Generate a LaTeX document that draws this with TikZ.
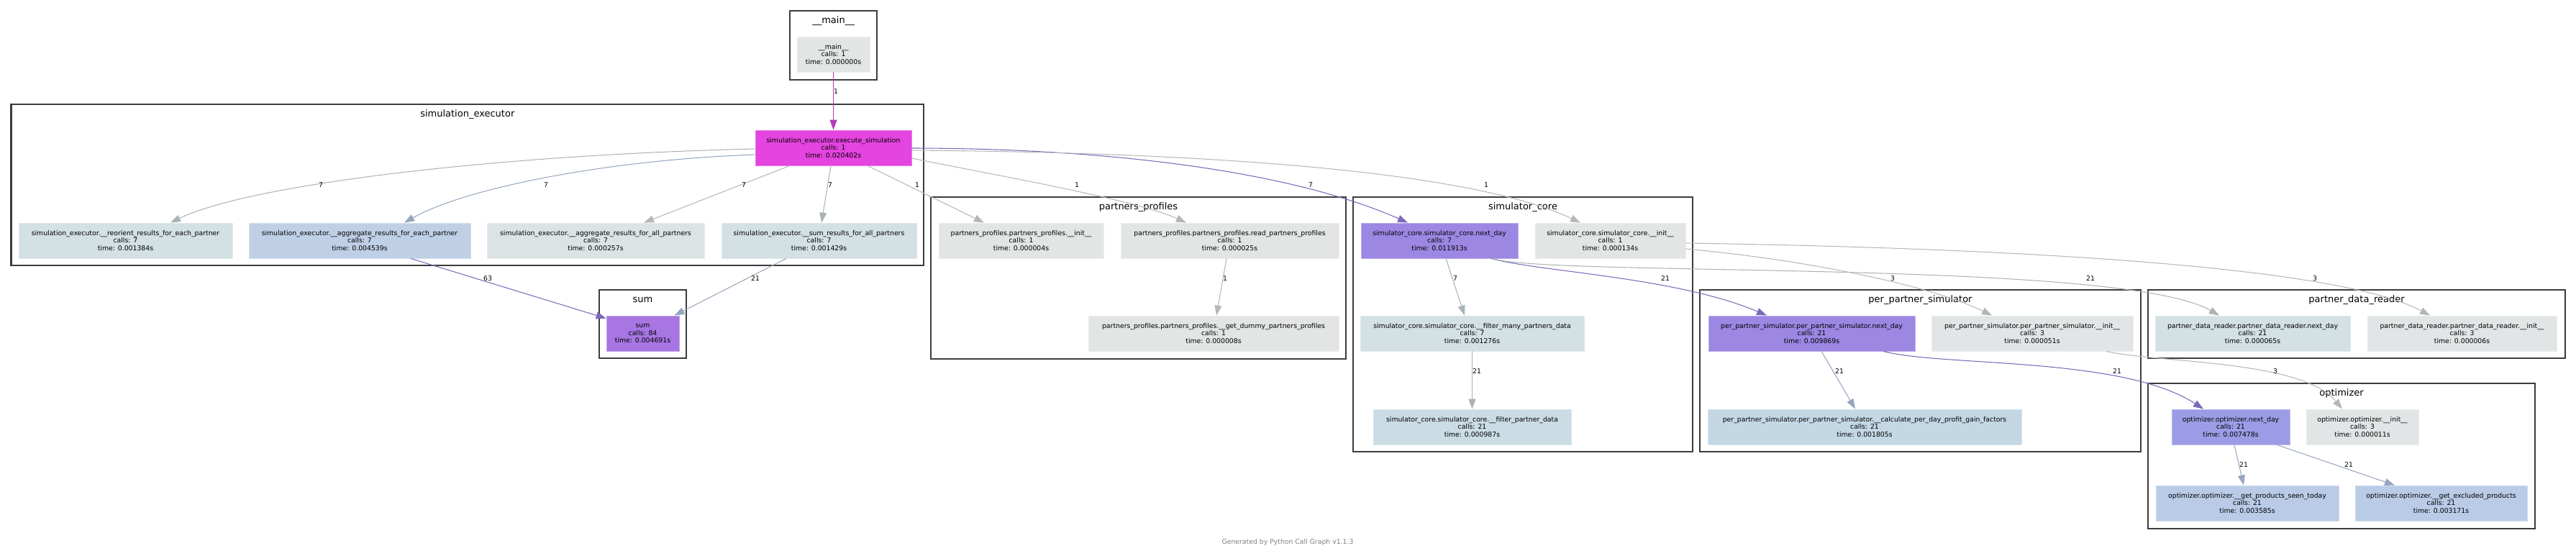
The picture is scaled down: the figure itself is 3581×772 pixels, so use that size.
\documentclass[tikz,border=0pt]{standalone}
\usepackage{fontspec}
\setmainfont{DejaVu Sans}
\usetikzlibrary{arrows.meta}
\definecolor{cgray}{HTML}{E3E5E5}
\definecolor{cpale}{HTML}{DCE3E4}
\definecolor{cpalest}{HTML}{E1E5E6}
\definecolor{cmist}{HTML}{D3E0E4}
\definecolor{csky}{HTML}{CADCE4}
\definecolor{csteel}{HTML}{C4D7E5}
\definecolor{cblue}{HTML}{BFD0E6}
\definecolor{ccorn}{HTML}{B9CBE7}
\definecolor{cmagenta}{HTML}{E444DF}
\definecolor{cviolet}{HTML}{A776E3}
\definecolor{cpurple}{HTML}{9C87E3}
\definecolor{cperiwinkle}{HTML}{9C9CE6}
\definecolor{cframe}{HTML}{3C3C3C}
\definecolor{emag}{HTML}{B43CB4}
\definecolor{egray}{HTML}{A9B3B7}
\definecolor{eblue}{HTML}{96A6BE}
\definecolor{elight}{HTML}{B5B7B7}
\definecolor{epurple}{HTML}{7B68B9}
\definecolor{efooter}{HTML}{7F7F7F}
\tikzset{
  > = {Triangle[length=14pt, width=10pt]},
  func/.style = {rectangle,
                 fill = #1,
                 draw = #1!70!white,
                 line width = 0.8pt,
                 align = center,
                 font = \fontsize{9.3}{10.5}\selectfont,
                 minimum height = 49pt,
                 inner sep = 0pt},
  cluster/.style = {draw = cframe,
                    line width = 2.6pt},
  title/.style = {anchor = base,
                  font = \fontsize{13}{15}\selectfont},
  call/.style = {->,
                 draw = #1,
                 line width = 1.05pt},
  count/.style = {font = \fontsize{9.3}{10.5}\selectfont,
                  inner sep = 0pt}
}
\begin{document}
\begin{tikzpicture}[x = 1pt, y = -1pt]

\useasboundingbox (0,0) rectangle (3581,772);

% clusters
\draw[cluster] (1098,15) rectangle (1219,111);
\node[title](t-main) at (1158.5,32) {\_\_main\_\_};
\draw[cluster] (15.6,145) rectangle (1284,369);
\node[title](t-exec) at (649.8,162) {simulation\_executor};
\draw[cluster] (833,403) rectangle (954,498);
\node[title](t-sum) at (893.5,420) {sum};
\draw[cluster] (1294,274) rectangle (1871,499);
\node[title](t-pp) at (1582.5,291) {partners\_profiles};
\draw[cluster] (1881,274) rectangle (2353,628);
\node[title](t-sc) at (2117,291) {simulator\_core};
\draw[cluster] (2363,403) rectangle (2976,628);
\node[title](t-pps) at (2669.5,420) {per\_partner\_simulator};
\draw[cluster] (2986,403) rectangle (3566,498);
\node[title](t-pdr) at (3276,420) {partner\_data\_reader};
\draw[cluster] (2986,533) rectangle (3524,735);
\node[title](t-opt) at (3255,550) {optimizer};

% functions
\node[func=cgray](main)[minimum width = 101pt] at (1158.5,75.5)
  {\_\_main\_\_\\calls: 1\\time: 0.000000s};
\node[func=cmagenta](exec)[minimum width = 217pt] at (1158.5,205.5)
  {simulation\_executor.execute\_simulation\\calls: 1\\time: 0.020402s};
\node[func=cmist](reorient)[minimum width = 297pt] at (174.5,334.5)
  {simulation\_executor.\_\_reorient\_results\_for\_each\_partner\\calls: 7\\time: 0.001384s};
\node[func=cblue](aggeach)[minimum width = 308pt] at (500,334.5)
  {simulation\_executor.\_\_aggregate\_results\_for\_each\_partner\\calls: 7\\time: 0.004539s};
\node[func=cpale](aggall)[minimum width = 302pt] at (828,334.5)
  {simulation\_executor.\_\_aggregate\_results\_for\_all\_partners\\calls: 7\\time: 0.000257s};
\node[func=cmist](sumres)[minimum width = 271pt] at (1138.5,334.5)
  {simulation\_executor.\_\_sum\_results\_for\_all\_partners\\calls: 7\\time: 0.001429s};
\node[func=cviolet](sum)[minimum width = 101pt] at (893.5,463.5)
  {sum\\calls: 84\\time: 0.004691s};
\node[func=cgray](ppinit)[minimum width = 229pt] at (1419.5,334.5)
  {partners\_profiles.partners\_profiles.\_\_init\_\_\\calls: 1\\time: 0.000004s};
\node[func=cgray](readpp)[minimum width = 303pt] at (1709.5,334.5)
  {partners\_profiles.partners\_profiles.read\_partners\_profiles\\calls: 1\\time: 0.000025s};
\node[func=cgray](dummy)[minimum width = 348pt] at (1687,463.5)
  {partners\_profiles.partners\_profiles.\_\_get\_dummy\_partners\_profiles\\calls: 1\\time: 0.000008s};
\node[func=cpurple](scnext)[minimum width = 218pt] at (2001,334.5)
  {simulator\_core.simulator\_core.next\_day\\calls: 7\\time: 0.011913s};
\node[func=cgray](scinit)[minimum width = 209pt] at (2238.5,334.5)
  {simulator\_core.simulator\_core.\_\_init\_\_\\calls: 1\\time: 0.000134s};
\node[func=cmist](filtermany)[minimum width = 311pt] at (2046.5,463.5)
  {simulator\_core.simulator\_core.\_\_filter\_many\_partners\_data\\calls: 7\\time: 0.001276s};
\node[func=csky](filterone)[minimum width = 275pt] at (2046.5,593.5)
  {simulator\_core.simulator\_core.\_\_filter\_partner\_data\\calls: 21\\time: 0.000987s};
\node[func=cpurple](ppsnext)[minimum width = 287pt] at (2518.5,463.5)
  {per\_partner\_simulator.per\_partner\_simulator.next\_day\\calls: 21\\time: 0.009869s};
\node[func=cpalest](ppsinit)[minimum width = 280pt] at (2825,463.5)
  {per\_partner\_simulator.per\_partner\_simulator.\_\_init\_\_\\calls: 3\\time: 0.000051s};
\node[func=csteel](gainfactors)[minimum width = 436pt] at (2592,593.5)
  {per\_partner\_simulator.per\_partner\_simulator.\_\_calculate\_per\_day\_profit\_gain\_factors\\calls: 21\\time: 0.001805s};
\node[func=cmist](pdrnext)[minimum width = 271pt] at (3131.5,463.5)
  {partner\_data\_reader.partner\_data\_reader.next\_day\\calls: 21\\time: 0.000065s};
\node[func=cpalest](pdrinit)[minimum width = 263pt] at (3422.5,463.5)
  {partner\_data\_reader.partner\_data\_reader.\_\_init\_\_\\calls: 3\\time: 0.000006s};
\node[func=cperiwinkle](optnext)[minimum width = 164pt] at (3101,593.5)
  {optimizer.optimizer.next\_day\\calls: 21\\time: 0.007478s};
\node[func=cpalest](optinit)[minimum width = 156pt] at (3284,593.5)
  {optimizer.optimizer.\_\_init\_\_\\calls: 3\\time: 0.000011s};
\node[func=ccorn](seen)[minimum width = 254pt] at (3124,699.5)
  {optimizer.optimizer.\_\_get\_products\_seen\_today\\calls: 21\\time: 0.003585s};
\node[func=ccorn](excluded)[minimum width = 239pt] at (3393.5,699.5)
  {optimizer.optimizer.\_\_get\_excluded\_products\\calls: 21\\time: 0.003171s};

% calls
\draw[call=emag] (main) -- (exec);
\draw[call=egray] ([yshift=-1.5pt]exec.west) .. controls (700,215) and (350,255) .. ([xshift=62.5pt]reorient.north);
\draw[call=eblue] ([yshift=-9.5pt]exec.west) .. controls (850,222) and (650,260) .. ([xshift=62pt]aggeach.north);
\draw[call=elight] ([xshift=-60.5pt]exec.south) -- ([xshift=67pt]aggall.north);
\draw[call=egray] ([xshift=-3.5pt]exec.south) -- ([xshift=3.5pt]sumres.north);
\draw[call=elight] ([xshift=47.5pt]exec.south) -- ([xshift=-51.5pt]ppinit.north);
\draw[call=elight] ([yshift=-14.5pt]exec.east) .. controls (1397,246) and (1579,278) .. ([xshift=-60.5pt]readpp.north);
\draw[call=epurple] ([yshift=-0.5pt]exec.east) .. controls (1550,206) and (1800,240) .. ([xshift=-44pt]scnext.north);
\draw[call=elight] ([yshift=-3.5pt]exec.east) .. controls (1700,212) and (2050,240) .. ([xshift=-41.5pt]scinit.north);
\draw[call=epurple] ([xshift=71pt]aggeach.south) -- ([yshift=-4pt]sum.north west);
\draw[call=eblue] ([xshift=-45.5pt]sumres.south) -- ([xshift=-7pt]sum.north east);
\draw[call=elight] ([xshift=-4.5pt]readpp.south) -- ([xshift=4pt]dummy.north);
\draw[call=egray] ([xshift=9pt]scnext.south) -- ([xshift=-10.5pt]filtermany.north);
\draw[call=egray] (filtermany) -- (filterone);
\draw[call=epurple] ([xshift=72pt]scnext.south) .. controls (2140,378) and (2330,385) .. ([xshift=-62.5pt]ppsnext.north);
\draw[call=egray] ([xshift=74pt]scnext.south) .. controls (2150,385) and (2950,360) .. ([xshift=-46.5pt]pdrnext.north);
\draw[call=elight] ([yshift=-11.5pt]scinit.east) .. controls (2500,360) and (2680,395) .. ([xshift=-56pt]ppsinit.north);
\draw[call=elight] ([yshift=-3.5pt]scinit.east) .. controls (2800,345) and (3250,370) .. ([xshift=-44.5pt]pdrinit.north);
\draw[call=eblue] ([xshift=13.5pt]ppsnext.south) -- ([xshift=-13pt]gainfactors.north);
\draw[call=epurple] ([xshift=99.5pt]ppsnext.south) .. controls (2700,510) and (2950,495) .. ([xshift=-38pt]optnext.north);
\draw[call=elight] ([xshift=103pt]ppsinit.south) .. controls (3000,505) and (3200,500) .. ([xshift=-28pt]optinit.north);
\draw[call=eblue] ([xshift=5pt]optnext.south) -- ([xshift=-5pt]seen.north);
\draw[call=eblue] ([xshift=64pt]optnext.south) -- ([xshift=-64.5pt]excluded.north);

% call counts
\node[count](n-main) at (1162,127) {1};
\node[count](n-reorient) at (446,257) {7};
\node[count](n-aggeach) at (759,257) {7};
\node[count](n-aggall) at (1034,257) {7};
\node[count](n-sumres) at (1154,257) {7};
\node[count](n-ppinit) at (1275,257) {1};
\node[count](n-readpp) at (1497,257) {1};
\node[count](n-scnext) at (1822,257) {7};
\node[count](n-scinit) at (2066,257) {1};
\node[count](n-sum1) at (678,387) {63};
\node[count](n-sum2) at (1050,387) {21};
\node[count](n-dummy) at (1703,387) {1};
\node[count](n-filtermany) at (2023,387) {7};
\node[count](n-filterone) at (2053,516) {21};
\node[count](n-ppsnext) at (2315,387) {21};
\node[count](n-pdrnext) at (2906,387) {21};
\node[count](n-ppsinit) at (2631,387) {3};
\node[count](n-pdrinit) at (3218,387) {3};
\node[count](n-gainfactors) at (2557,516) {21};
\node[count](n-optnext) at (2943,516) {21};
\node[count](n-optinit) at (3163,516) {3};
\node[count](n-seen) at (3119,646) {21};
\node[count](n-excluded) at (3265,646) {21};

\node[count, text = efooter](footer) at (1790,754) {Generated by Python Call Graph v1.1.3};

\end{tikzpicture}
\end{document}
